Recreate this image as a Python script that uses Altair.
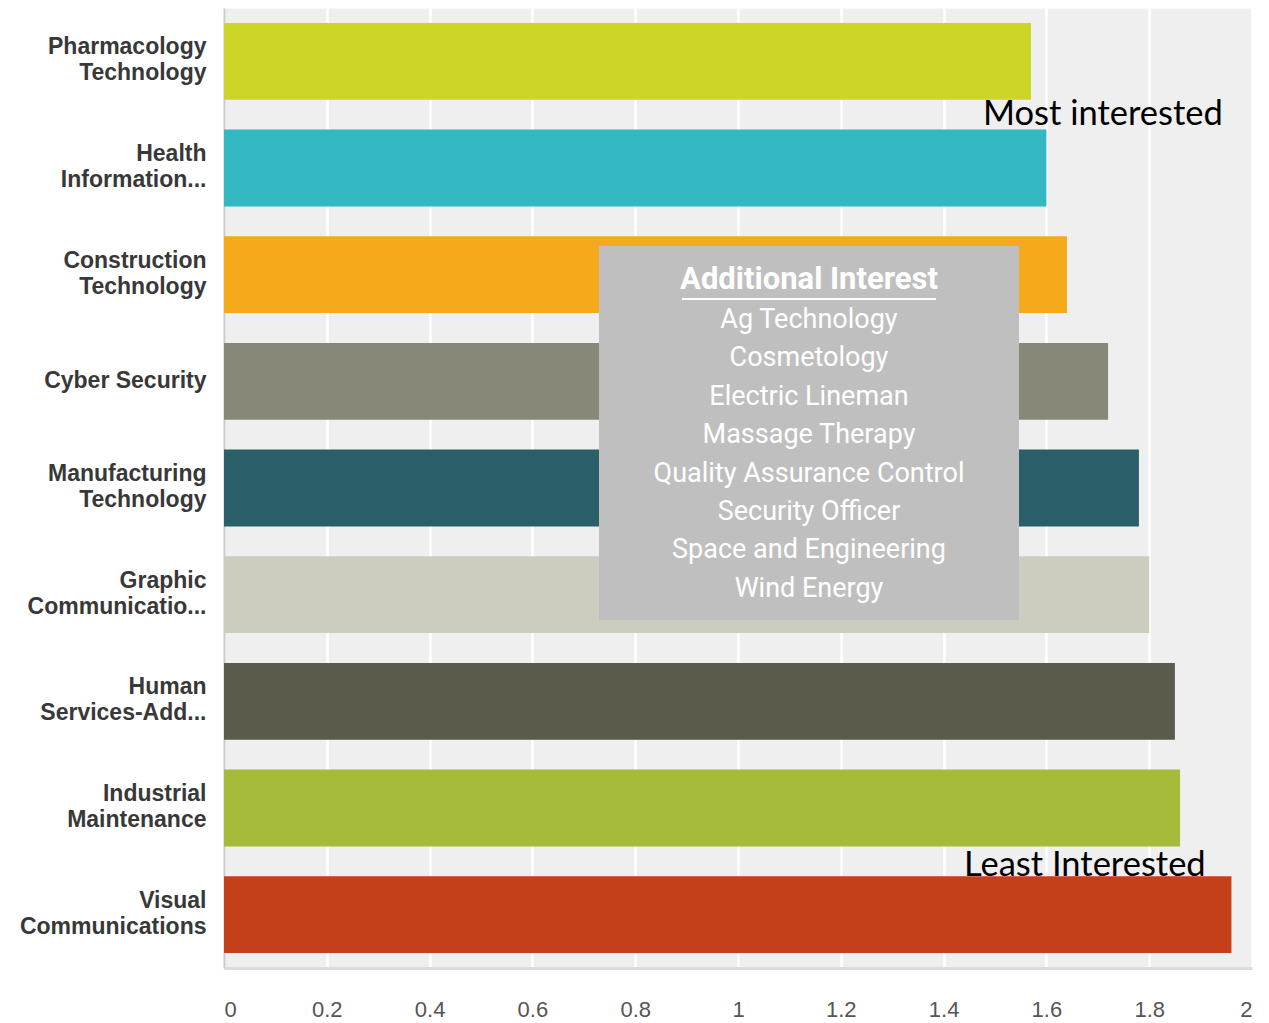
import altair as alt
import pandas as pd

# ---- data ----
categories = [
    "Pharmacology|Technology",
    "Health|Information...",
    "Construction|Technology",
    "Cyber Security",
    "Manufacturing|Technology",
    "Graphic|Communicatio...",
    "Human|Services-Add...",
    "Industrial|Maintenance",
    "Visual|Communications",
]
values = [1.57, 1.60, 1.64, 1.72, 1.78, 1.80, 1.85, 1.86, 1.96]
colors = ["#cdd527", "#33b8c1", "#f5aa1c", "#878877", "#2a5e69",
          "#cccdbe", "#5a5b4b", "#a5ba39", "#c4401a"]
x_ticks = [0, 0.2, 0.4, 0.6, 0.8, 1, 1.2, 1.4, 1.6, 1.8, 2]

box_title = "Additional Interest"
box_items = [
    "Ag Technology",
    "Cosmetology",
    "Electric Lineman",
    "Massage Therapy",
    "Quality Assurance Control",
    "Security Officer",
    "Space and Engineering",
    "Wind Energy",
]
note_top = "Most interested"
note_bottom = "Least Interested"

df = pd.DataFrame({"category": categories, "value": values})

bars = alt.Chart(df).mark_bar().encode(
    y=alt.Y(
        "category:N",
        sort=categories,
        scale=alt.Scale(paddingInner=0.28, paddingOuter=0.14),
        axis=alt.Axis(
            title=None,
            labelExpr="split(datum.label, '|')",
            labelFont="Liberation Sans",
            labelFontWeight="bold",
            labelFontSize=23,
            labelColor="#383838",
            labelLineHeight=26,
            labelPadding=18,
            labelAlign="right",
            labelBaseline="middle",
            labelOffset={"condition": {"test": "indexof(datum.label, '|') < 0", "value": 0}, "value": -14},
            labelLimit=400,
            ticks=False,
            domainColor="#cccccc",
            domainWidth=2,
            grid=False,
        ),
    ),
    x=alt.X(
        "value:Q",
        scale=alt.Scale(domain=[0, 2], nice=False),
        axis=alt.Axis(
            title=None,
            values=x_ticks,
            format="~g",
            labelFont="Liberation Sans",
            labelFontSize=22,
            labelColor="#555555",
            labelPadding=31,
            ticks=False,
            domainColor="#dcdcdc",
            domainWidth=3,
            gridColor="#ffffff",
            gridWidth=2.5,
        ),
    ),
    color=alt.Color("category:N", scale=alt.Scale(domain=categories, range=colors), legend=None),
)

one = alt.Data(values=[{"k": 0}])

box = alt.Chart(one).mark_rect(color="#bfbfbf").encode(
    x=alt.value(375), x2=alt.value(795), y=alt.value(238), y2=alt.value(612)
)

title_txt = alt.Chart(one).mark_text(
    text=box_title,
    font="Roboto",
    fontWeight="bold",
    fontSize=31,
    color="#ffffff",
    align="center",
    baseline="middle",
).encode(x=alt.value(585), y=alt.value(272))

underline = alt.Chart(one).mark_rule(color="#ffffff", strokeWidth=2).encode(
    x=alt.value(458), x2=alt.value(712), y=alt.value(291)
)

items_txt = alt.Chart(one).mark_text(
    text=box_items,
    font="Roboto",
    fontSize=27,
    lineHeight=38.4,
    color="#ffffff",
    align="center",
    baseline="middle",
).encode(x=alt.value(585), y=alt.value(312))

top_note = alt.Chart(one).mark_text(
    text=note_top, font="Lato", fontSize=34.5, color="#000000",
    align="left", baseline="alphabetic",
).encode(x=alt.value(759), y=alt.value(117))

bottom_note = alt.Chart(one).mark_text(
    text=note_bottom, font="Lato", fontSize=34.5, color="#000000",
    align="left", baseline="alphabetic",
).encode(x=alt.value(740), y=alt.value(868))

chart = (
    alt.layer(bars, box, title_txt, underline, items_txt, top_note, bottom_note)
    .properties(
        width=1028,
        height=960,
        autosize=alt.AutoSizeParams(type="none"),
        padding={"left": 216, "top": 0, "right": 9, "bottom": 55},
    )
    .configure_view(fill="#efefef", stroke="transparent")
)

chart.save("out.html", embed_options={"renderer": "svg", "actions": False})
